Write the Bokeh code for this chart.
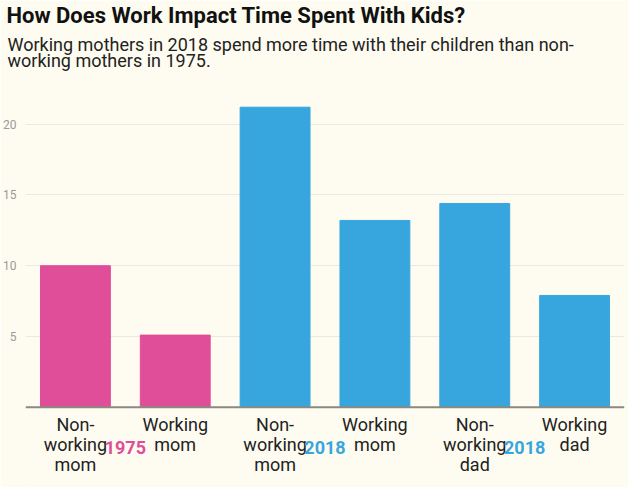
from bokeh.plotting import figure
from bokeh.models import ColumnDataSource, FactorRange, Range1d, FixedTicker, Span, Title
from bokeh.core.properties import value
from bokeh.embed import file_html
from bokeh.resources import INLINE

# ---- data ----
bar_groups = ["1975", "1975", "2018 moms", "2018 moms", "2018 dads", "2018 dads"]
categories = ["Non-working mom", "Working mom", "Non-working mom", "Working mom", "Non-working dad", "Working dad"]
tick_labels = ["Non-\nworking\nmom", "Working\nmom", "Non-\nworking\nmom", "Working\nmom", "Non-\nworking\ndad", "Working\ndad"]
hours = [10.0, 5.1, 21.2, 13.2, 14.4, 7.9]
group_keys = ["1975", "2018 moms", "2018 dads"]
group_labels = ["1975", "2018", "2018"]
y_ticks = [5, 10, 15, 20]

PINK = "#E04D98"
BLUE = "#38A6DE"
BG = "#FEFCF0"
year_color = {"1975": PINK, "2018 moms": BLUE, "2018 dads": BLUE}

title_text = "How Does Work Impact Time Spent With Kids?"
subtitle_text = ("Working mothers in 2018 spend more time with their children than non-\n"
                 "working mothers in 1975.")

factors = list(zip(bar_groups, categories))
src = ColumnDataSource(dict(x=factors, hours=hours, label=tick_labels,
                            color=[year_color[g] for g in bar_groups]))
gsrc = ColumnDataSource(dict(x=group_keys, text=group_labels,
                             color=[year_color[g] for g in group_keys]))

p = figure(width=628, height=487, output_backend="svg", toolbar_location=None,
           x_range=FactorRange(*factors, factor_padding=0, group_padding=0, range_padding=0),
           y_range=Range1d(-5.666, 23.51),
           min_border_left=0, min_border_right=4, min_border_top=0, min_border_bottom=0)

p.background_fill_color = BG
p.border_fill_color = BG
p.outline_line_color = None

p.vbar(x="x", top="hours", width=0.7, color="color", source=src)

p.add_layout(Span(location=0, dimension="width", line_color="#8A8A82", line_width=2))

p.text(x="x", y=0, text="label", source=src, text_align="center", text_baseline="top",
       y_offset=7, text_font=value("Roboto"), text_font_size="18px", text_color="#222222",
       text_line_height=0.95)
p.text(x="x", y=0, text="text", source=gsrc, text_align="center", text_baseline="alphabetic",
       y_offset=40, text_font=value("Roboto"), text_font_size="18px", text_font_style="bold",
       text_color="color")

p.xaxis.visible = False
p.xgrid.grid_line_color = None
p.yaxis.ticker = FixedTicker(ticks=y_ticks)
p.yaxis.axis_line_color = None
p.yaxis.major_tick_line_color = None
p.yaxis.minor_tick_line_color = None
p.yaxis.major_tick_out = 0
p.yaxis.major_tick_in = 0
p.yaxis.major_label_standoff = 9
p.yaxis.major_label_text_font = "Roboto"
p.yaxis.major_label_text_font_size = "12px"
p.yaxis.major_label_text_color = "#9A9A9A"
p.ygrid.grid_line_color = "#EAE8E2"
p.ygrid.grid_line_width = 1

p.add_layout(Title(text=subtitle_text, text_font="Roboto", text_font_size="18px",
                   text_font_style="normal", text_color="#222222", align="left",
                   vertical_align="top", offset=-18, standoff=3, text_line_height=0.74), "above")
p.add_layout(Title(text=title_text, text_font="Roboto", text_font_size="22px",
                   text_font_style="bold", text_color="#111111", align="left",
                   vertical_align="top", offset=-19, standoff=5), "above")

open("out.html", "w").write(file_html(p, INLINE))
